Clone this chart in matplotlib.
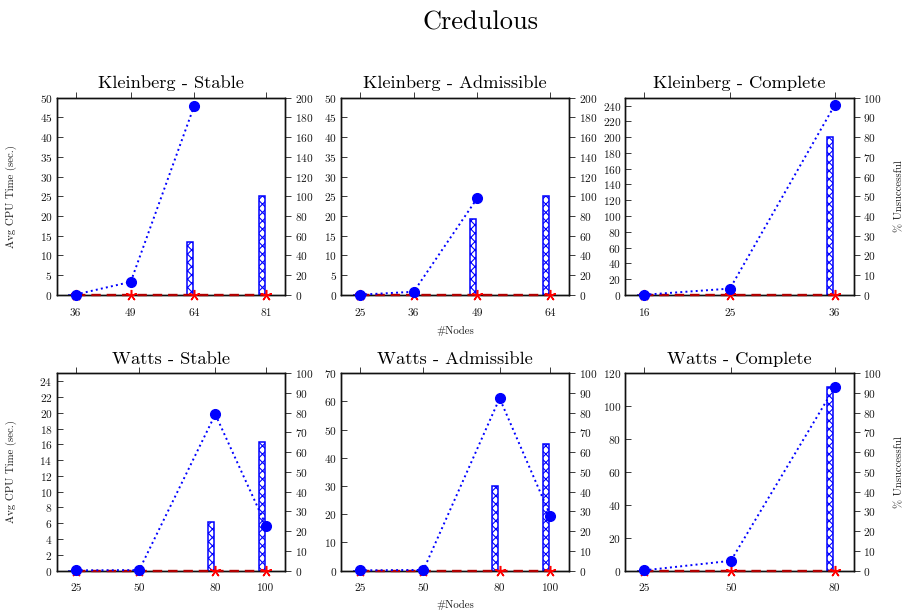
import numpy as np
import matplotlib
matplotlib.use("Agg")
import matplotlib.pyplot as plt

plt.rcParams['font.family'] = ['cmr10', 'DejaVu Serif']
plt.rcParams['axes.formatter.use_mathtext'] = True
plt.rcParams['hatch.linewidth'] = 0.8
plt.rcParams['hatch.color'] = 'blue'

nan = np.nan

# ---- data ----
titles = ["Kleinberg - Stable", "Kleinberg - Admissible", "Kleinberg - Complete",
          "Watts - Stable", "Watts - Admissible", "Watts - Complete"]

ks_nodes = [36, 49, 64, 81]
ks_time_blue = [0.1, 3.3, 47.9, nan]
ks_time_red = [0, 0, 0, 0]
ks_unsucc_blue = [0, 0, 54, 100]

ka_nodes = [25, 36, 49, 64]
ka_time_blue = [0.05, 0.8, 24.5, nan]
ka_time_red = [0, 0, 0, 0]
ka_unsucc_blue = [0, 0, 77, 100]

kc_nodes = [16, 25, 36]
kc_time_blue = [0.2, 8.0, 240.5]
kc_time_red = [0, 0, 0]
kc_unsucc_blue = [0, 0, 80]

ws_nodes = [25, 50, 80, 100]
ws_time_blue = [0.02, 0.05, 19.8, 5.7]
ws_time_red = [0, 0, 0, 0]
ws_unsucc_blue = [0, 0, 24.5, 65]

wa_nodes = [25, 50, 80, 100]
wa_time_blue = [0.05, 0.2, 61.1, 19.5]
wa_time_red = [0, 0, 0, 0]
wa_unsucc_blue = [0, 0, 43, 64]

wc_nodes = [25, 50, 80]
wc_time_blue = [0.1, 5.9, 111.5]
wc_time_red = [0, 0, 0]
wc_unsucc_blue = [0, 0, 93]

panels = [
    (ks_nodes, ks_time_blue, ks_time_red, ks_unsucc_blue, 50, 5, 200, 20),
    (ka_nodes, ka_time_blue, ka_time_red, ka_unsucc_blue, 50, 5, 200, 20),
    (kc_nodes, kc_time_blue, kc_time_red, kc_unsucc_blue, 250, 20, 100, 10),
    (ws_nodes, ws_time_blue, ws_time_red, ws_unsucc_blue, 25, 2, 100, 10),
    (wa_nodes, wa_time_blue, wa_time_red, wa_unsucc_blue, 70, 10, 100, 10),
    (wc_nodes, wc_time_blue, wc_time_red, wc_unsucc_blue, 120, 20, 100, 10),
]

W, H = 904, 612
fig = plt.figure(figsize=(W / 100, H / 100), dpi=100)

col_left = [56.7, 341.0, 625.3]
row_top = [97.7, 373.3]
ax_w, ax_h = 228.4, 197.2
xlabel_center = [331.0, 604.5]

TICK_FS = 8.2
TXT = '#1a1a1a'
for i, (nodes, tb, tr, ub, lmax, lstep, rmax, rstep) in enumerate(panels):
    r, c = divmod(i, 3)
    left = col_left[c] / W
    bottom = (H - row_top[r] - ax_h) / H
    ax = fig.add_axes([left, bottom, ax_w / W, ax_h / H])
    ax2 = ax.twinx()
    ax.set_zorder(ax2.get_zorder() + 1)
    ax.patch.set_visible(False)

    x = np.array(nodes, dtype=float)
    span = x[-1] - x[0]
    xlim = (x[0] - 0.1 * span, x[-1] + 0.1 * span)
    ppu = ax_w / (xlim[1] - xlim[0])
    bw = 6.3 / ppu
    off = 7.5 / ppu

    ax2.bar(x - off, ub, width=bw, align='edge', facecolor='white',
            edgecolor='blue', hatch='xxxx', linewidth=1.1, zorder=2)
    ax2.set_ylim(0, rmax)
    ax2.set_yticks(np.arange(0, rmax + 0.1, rstep))

    ax.plot(x, tr, color='#b00000', linestyle=(0, (4, 2.5)), linewidth=1.7,
            marker=(5, 2, 0), markersize=8, markeredgecolor='red',
            markeredgewidth=1.1, clip_on=False, zorder=3)
    ax.plot(x, tb, color='blue', linestyle=':', linewidth=1.4,
            marker='o', markersize=7, markerfacecolor='blue',
            markeredgecolor='blue', clip_on=False, zorder=4)

    ax.set_xlim(*xlim)
    ax.set_ylim(0, lmax)
    ax.set_xticks(x)
    ax.set_xticklabels([str(n) for n in nodes])
    ax.set_yticks(np.arange(0, lmax + 0.1, lstep))

    for a in (ax, ax2):
        for s in a.spines.values():
            s.set_color('#111111')
            s.set_linewidth(1.0)
    ax.tick_params(axis='y', direction='in', length=4, width=0.6,
                   labelsize=TICK_FS, pad=3, colors=TXT, labelcolor=TXT)
    ax.tick_params(axis='x', which='both', direction='out', length=4, width=0.6,
                   labelsize=TICK_FS, pad=5.5, top=True, bottom=False,
                   colors=TXT, labelcolor=TXT)
    ax2.tick_params(axis='y', direction='out', length=4, width=0.6,
                    labelsize=TICK_FS, pad=3, colors=TXT, labelcolor=TXT)
    ax2.tick_params(axis='x', top=False, bottom=False)

    ax.set_title(titles[i], fontsize=13.3, pad=7)
    if c == 0:
        ax.set_ylabel("Avg CPU Time (sec.)", fontsize=7.8, color=TXT)
        ax.yaxis.set_label_coords((17 - col_left[0]) / ax_w, 0.5)
    if c == 2:
        ax2.set_ylabel("% Unsuccessful", fontsize=7.8, color=TXT)
        ax2.yaxis.set_label_coords((895 - col_left[2]) / ax_w, 0.5)
    if c == 1:
        ax.set_xlabel("#Nodes", fontsize=7.8, color=TXT)
        ax.xaxis.set_label_coords(0.5, (row_top[r] + ax_h - xlabel_center[r]) / ax_h)
        ax.xaxis.label.set_va('center')

fig.suptitle("Credulous", fontsize=19, x=480 / W, y=1 - 23 / H, va='center')
fig.savefig("out.png", dpi=100)
